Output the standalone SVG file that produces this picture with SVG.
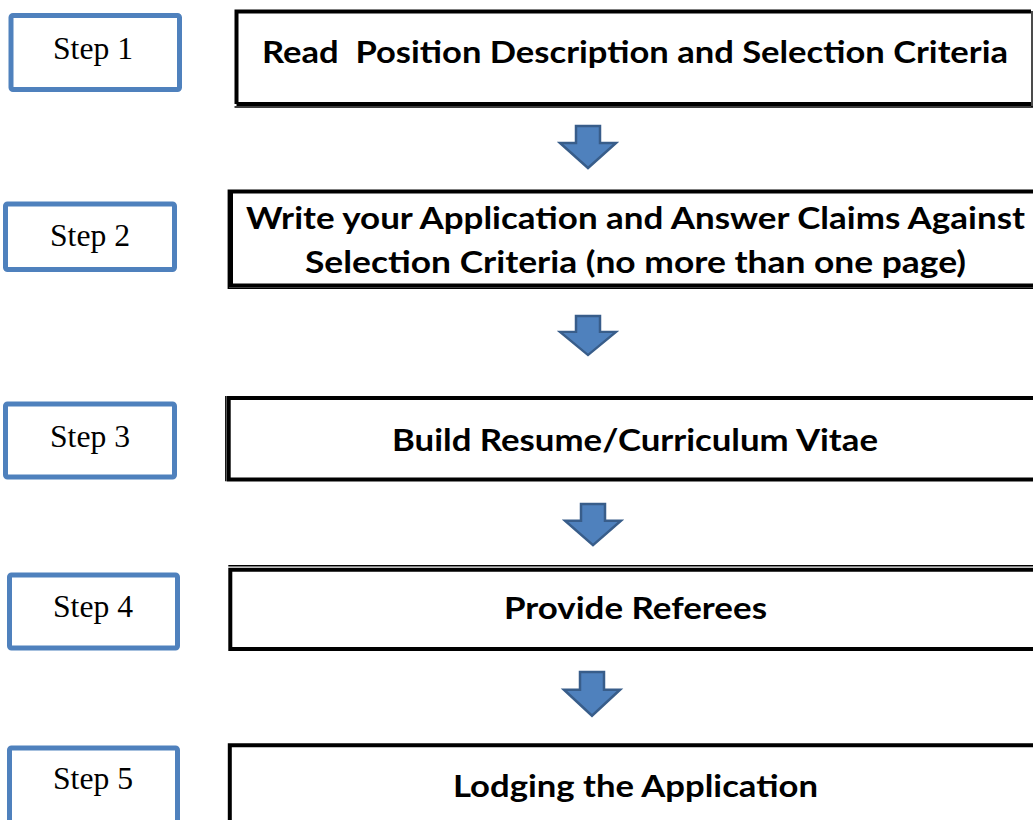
<svg xmlns="http://www.w3.org/2000/svg" width="1033" height="820" viewBox="0 0 1033 820">
<defs>
<style>
.step{fill:#fff;stroke:#4F81BD;stroke-width:5}
.stxt{font-family:"Liberation Serif","Times New Roman",serif;font-size:32px;fill:#000}
.thick{stroke:#000;stroke-width:4;fill:none}
.thin{stroke:#000;stroke-width:1.4;fill:none}
.mtxt{font-family:Lato,"Open Sans","Liberation Sans",sans-serif;font-weight:bold;font-size:29.5px;fill:#000}
.arr{fill:#4F81BD;stroke:#385D8A;stroke-width:2.5;stroke-linejoin:miter}
</style>
<path id="arrow" d="M-12,0 H12 V17 H28 L0,42 L-28,17 H-12 Z"/>
</defs>
<rect width="1033" height="820" fill="#fff"/>

<g id="step1"><rect class="step" x="11" y="15.5" width="168.5" height="74" rx="2"/><text class="stxt" x="53" y="58.5" textLength="80" lengthAdjust="spacingAndGlyphs">Step 1</text></g>
<g id="step2"><rect class="step" x="5.5" y="204" width="169" height="65.5" rx="2"/><text class="stxt" x="50" y="245.5" textLength="80" lengthAdjust="spacingAndGlyphs">Step 2</text></g>
<g id="step3"><rect class="step" x="5.5" y="404" width="169" height="73" rx="2"/><text class="stxt" x="50" y="447" textLength="80" lengthAdjust="spacingAndGlyphs">Step 3</text></g>
<g id="step4"><rect class="step" x="9.5" y="575" width="168" height="73" rx="2"/><text class="stxt" x="53" y="617" textLength="80" lengthAdjust="spacingAndGlyphs">Step 4</text></g>
<g id="step5"><rect class="step" x="9.5" y="748" width="168" height="80" rx="2"/><text class="stxt" x="53" y="788.5" textLength="80" lengthAdjust="spacingAndGlyphs">Step 5</text></g>

<g id="box1">
<path class="thick" d="M1031,11.5 H236.5 V104"/>
<path class="thin" d="M1032,11 V107 M234.5,107 H1033"/>
<path class="thick" d="M236.5,104 H1031"/>
<text class="mtxt" x="262" y="62.5" textLength="746" lengthAdjust="spacingAndGlyphs" xml:space="preserve">Read  Position Description and Selection Criteria</text>
</g>
<g id="box2">
<path class="thick" d="M1033,191.5 H231 V285.5 H1033"/>
<path class="thin" d="M228.3,189.5 V288.3 H1033"/>
<text class="mtxt" x="246" y="228.5" textLength="779" lengthAdjust="spacingAndGlyphs">Write your Application and Answer Claims Against</text>
<text class="mtxt" x="305" y="272.5" textLength="661" lengthAdjust="spacingAndGlyphs">Selection Criteria (no more than one page)</text>
</g>
<g id="box3">
<path class="thick" d="M1033,398 H228.7 V479.5 H1033"/>
<path class="thin" d="M225.8,396 V481.3"/>
<text class="mtxt" x="392" y="450.5" textLength="486" lengthAdjust="spacingAndGlyphs">Build Resume/Curriculum Vitae</text>
</g>
<g id="box4">
<path class="thick" d="M1033,569.7 H230.3 V649 H1033"/>
<path class="thin" d="M228.3,565.8 H1033"/>
<text class="mtxt" x="504" y="619" textLength="263" lengthAdjust="spacingAndGlyphs">Provide Referees</text>
</g>
<g id="box5">
<path class="thick" d="M1033,745.3 H229.8 V822"/>
<text class="mtxt" x="453" y="796.5" textLength="365" lengthAdjust="spacingAndGlyphs">Lodging the Application</text>
</g>

<g id="connectors">
<use href="#arrow" class="arr" transform="translate(588,126)"/>
<use href="#arrow" class="arr" transform="translate(588,316) scale(1,0.93)"/>
<use href="#arrow" class="arr" transform="translate(593,504) scale(1,0.98)"/>
<use href="#arrow" class="arr" transform="translate(592,672) scale(1,1.04)"/>
</g>
</svg>
